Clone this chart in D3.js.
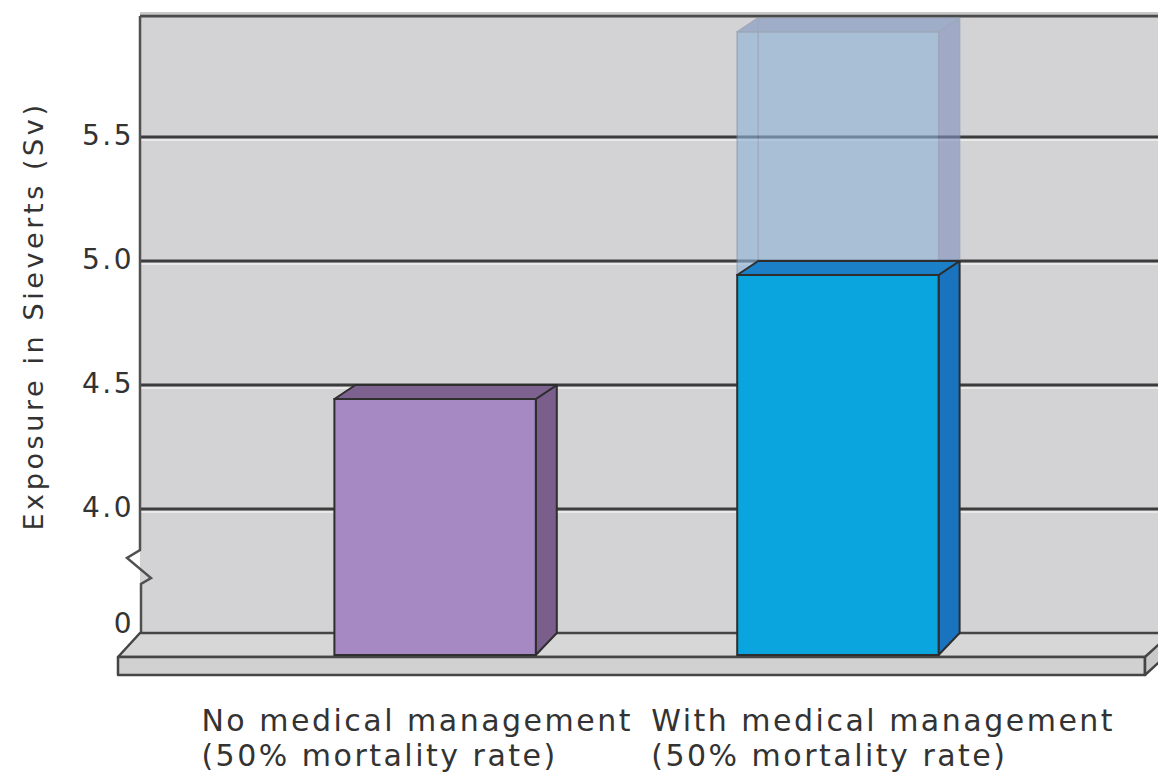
<!DOCTYPE html>
<html>
<head>
<meta charset="utf-8">
<script src="https://cdn.jsdelivr.net/npm/d3@7"></script>
<style>
  html, body { margin: 0; padding: 0; background: #fff; }
  svg { display: block; }
  text { font-family: "DejaVu Sans", Verdana, sans-serif; fill: #333; }
</style>
</head>
<body>
<div id="chart"></div>
<script>
// Data
const categories = ["No medical management", "With medical management"];
const subLabels = ["(50% mortality rate)", "(50% mortality rate)"];
const values = [4.5, 5.0];
// upper (uncertain) range shown as a transparent extension on the second bar
const rangeTop = [null, 5.98];
const tickValues = [0, 4.0, 4.5, 5.0, 5.5];
const tickLabels = ["0", "4.0", "4.5", "5.0", "5.5"];
const yTitle = "Exposure in Sieverts (Sv)";

const width = 1158, height = 778;
const wallLeft = 140, wallTop = 16;
const depthX = 21, depthY = 14;   // 3D offset of bars
const floorDepth = 24;

const svg = d3.select("#chart").append("svg")
    .attr("width", width)
    .attr("height", height);

// broken axis: 0 sits on the floor, then 4.0 .. 6.0
const y = d3.scaleLinear()
    .domain([0, 4.0, 6.0])
    .range([633, 509, 13]);

const x = d3.scaleBand()
    .domain(categories)
    .range([133, 1140])
    .paddingInner(0.5)
    .paddingOuter(0.5);

const floorY = y(0);
const frontY = floorY + 22;

// back wall
svg.append("rect")
    .attr("x", wallLeft).attr("y", wallTop)
    .attr("width", width - wallLeft + 10)
    .attr("height", floorY - wallTop)
    .attr("fill", "#d3d3d5");

// gridlines
const grid = svg.append("g");
tickValues.filter(v => v > 0).forEach(v => {
    grid.append("line")
        .attr("x1", wallLeft).attr("x2", width)
        .attr("y1", y(v) + 3).attr("y2", y(v) + 3)
        .attr("stroke", "#e9e9ea").attr("stroke-width", 2);
    grid.append("line")
        .attr("x1", wallLeft).attr("x2", width)
        .attr("y1", y(v)).attr("y2", y(v))
        .attr("stroke", "#3c3c3c").attr("stroke-width", 3);
});

// top border of wall
svg.append("line")
    .attr("x1", wallLeft).attr("x2", width)
    .attr("y1", wallTop).attr("y2", wallTop)
    .attr("stroke", "#4a4a4a").attr("stroke-width", 3);
svg.append("line")
    .attr("x1", wallLeft).attr("x2", width)
    .attr("y1", wallTop - 3).attr("y2", wallTop - 3)
    .attr("stroke", "#c8c8c8").attr("stroke-width", 2);

// left wall edge with axis break
const breakTop = 550;
svg.append("path")
    .attr("d", `M${wallLeft - 2},${breakTop + 1} L${wallLeft - 13},${breakTop + 8} L${wallLeft - 2},${breakTop + 20} Z`)
    .attr("fill", "#fff");
svg.append("path")
    .attr("d", `M${wallLeft},${wallTop} L${wallLeft},${breakTop} L${wallLeft - 13},${breakTop + 8} L${wallLeft + 11},${breakTop + 28} L${wallLeft + 1},${breakTop + 34} L${wallLeft + 1},${floorY}`)
    .attr("fill", "none")
    .attr("stroke", "#505050")
    .attr("stroke-width", 2.5)
    .attr("stroke-linejoin", "miter");

// floor slab
const floor = svg.append("g")
    .attr("stroke", "#454545")
    .attr("stroke-width", 2.5)
    .attr("stroke-linejoin", "round");
const floorRight = 1145;
floor.append("path")
    .attr("d", `M${wallLeft},${floorY} L${width + 30},${floorY} L${floorRight},${floorY + floorDepth} L${wallLeft - 22},${floorY + floorDepth} Z`)
    .attr("fill", "#d7d7d8");
floor.append("path")
    .attr("d", `M${wallLeft - 22},${floorY + floorDepth} L${floorRight},${floorY + floorDepth} L${floorRight},${floorY + floorDepth + 18} L${wallLeft - 22},${floorY + floorDepth + 18} Z`)
    .attr("fill", "#d1d1d2");
floor.append("path")
    .attr("d", `M${floorRight},${floorY + floorDepth} L${floorRight + 22},${floorY + 4} L${floorRight + 22},${floorY + 22} L${floorRight},${floorY + floorDepth + 18} Z`)
    .attr("fill", "#c9c9ca");

// bars
const barColors = [
    { front: "#a688c2", top: "#7d628f", side: "#7a5e8c" },
    { front: "#0aa5de", top: "#1b80c8", side: "#1a73be" }
];

function drawBox(g, x0, x1, yBack, yBottomFront, yBottomBack, c, stroke, sw, op) {
    const yFront = yBack + depthY;
    const box = g.append("g").attr("opacity", op);
    box.append("path")
        .attr("d", `M${x1},${yFront} L${x1 + depthX},${yBack} L${x1 + depthX},${yBottomBack} L${x1},${yBottomFront} Z`)
        .attr("fill", c.side).attr("stroke", stroke).attr("stroke-width", sw).attr("stroke-linejoin", "round");
    box.append("path")
        .attr("d", `M${x0},${yFront} L${x0 + depthX},${yBack} L${x1 + depthX},${yBack} L${x1},${yFront} Z`)
        .attr("fill", c.top).attr("stroke", stroke).attr("stroke-width", sw).attr("stroke-linejoin", "round");
    box.append("rect")
        .attr("x", x0).attr("y", yFront)
        .attr("width", x1 - x0).attr("height", yBottomFront - yFront)
        .attr("fill", c.front).attr("stroke", stroke).attr("stroke-width", sw);
    return box;
}

const bars = svg.append("g");

// transparent extension (drawn with its hidden back edges)
categories.forEach((cat, i) => {
    if (rangeTop[i] == null) return;
    const x0 = x(cat), x1 = x0 + x.bandwidth();
    const yb = y(rangeTop[i]);
    const yLow = y(values[i]);
    const box = drawBox(bars, x0, x1, yb, yLow + depthY, yLow,
        { front: "#90b3d7", top: "#8197c2", side: "#8192bf" }, "#7d8fab", 1.5, 0.62);
    box.append("line")
        .attr("x1", x0 + depthX).attr("x2", x0 + depthX)
        .attr("y1", yb).attr("y2", yLow)
        .attr("stroke", "#7d8fab").attr("stroke-width", 1.2);
});

categories.forEach((cat, i) => {
    const x0 = x(cat), x1 = x0 + x.bandwidth();
    drawBox(bars, x0, x1, y(values[i]), frontY, floorY, barColors[i], "#2e2e2e", 2, 1);
});

// y axis labels
const yAxis = svg.append("g")
    .attr("transform", `translate(${wallLeft - 4},0)`)
    .call(d3.axisLeft(y).tickValues(tickValues).tickSize(0)
        .tickFormat((d, i) => tickLabels[i]));
yAxis.select(".domain").remove();
yAxis.selectAll("text")
    .attr("x", -2)
    .attr("dy", (d) => d === 0 ? "-0.02em" : "0.28em")
    .style("font-size", "28px")
    .style("letter-spacing", "2.5px")
    .style("font-family", "'DejaVu Sans', Verdana, sans-serif")
    .style("fill", "#333");

// y title
svg.append("text")
    .attr("transform", `translate(43, 316) rotate(-90)`)
    .attr("text-anchor", "middle")
    .style("font-size", "27px")
    .style("letter-spacing", "3.6px")
    .text(yTitle);

// x labels (left aligned, two lines)
const labelShift = [-133, -86];
categories.forEach((cat, i) => {
    const t = svg.append("text")
        .attr("x", x(cat) + labelShift[i])
        .attr("y", 731)
        .style("font-size", "30px")
        .style("letter-spacing", "2.5px");
    t.append("tspan").text(cat);
    t.append("tspan")
        .attr("x", x(cat) + labelShift[i])
        .attr("y", 766)
        .text(subLabels[i]);
});
</script>
</body>
</html>
